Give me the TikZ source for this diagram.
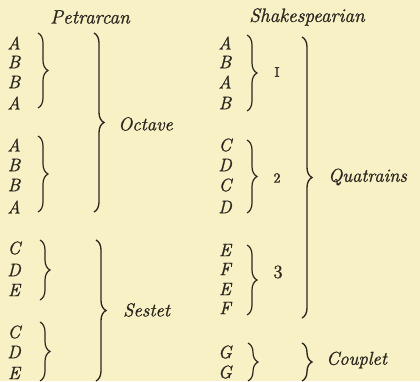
\documentclass[tikz,border=0pt]{standalone}
\usepackage{fontspec}
\newfontfamily\inkfont{Latin Modern Roman}[FakeBold=1.2]
\usetikzlibrary{decorations.pathreplacing}
\definecolor{paper}{HTML}{F8F1C6}
\definecolor{ink}{HTML}{2B2720}
\tikzset{
  letter/.style={text=ink,inner sep=0pt,font=\fontsize{13.5}{15}\inkfont\itshape},
  label/.style={text=ink,inner sep=0pt,anchor=west,font=\fontsize{14}{15}\inkfont\itshape},
  num/.style={text=ink,inner sep=0pt,font=\fontsize{14}{15}\inkfont},
  smallnum/.style={text=ink,inner sep=0pt,font=\fontsize{10.5}{12}\inkfont},
  head/.style={text=ink,inner sep=0pt,font=\fontsize{14.5}{15}\inkfont\itshape},
  smallbrace/.style={draw=ink,line width=0.9pt,decorate,decoration={brace,amplitude=7.5pt,aspect=0.5}},
  bigbrace/.style={draw=ink,line width=1pt,decorate,decoration={brace,amplitude=7.5pt,aspect=0.5}}
}
\begin{document}
\begin{tikzpicture}[x=0.75pt,y=-0.75pt]
\fill[paper] (0,0) rectangle (420,381);
\useasboundingbox (0,0) rectangle (420,381);
% headings
\node[head] (hp) at (90,17) {Petrarcan};
\node[head] (hs) at (307,17) {Shakespearian};
% left letters
\foreach \n/\l/\y in {1/A/43,2/B/62,3/B/82,4/A/103,5/A/145,6/B/165,7/B/185,8/A/207,9/C/248,10/D/270,11/E/290,12/C/332,13/D/352,14/E/373}
  \node[letter] (L\n) at (14,\y) {\l};
% right letters
\foreach \n/\l/\y in {1/A/43,2/B/62,3/A/82,4/B/103,5/C/145,6/D/165,7/C/185,8/D/207,9/E/250,10/F/269,11/E/289,12/F/308,13/G/352,14/G/372}
  \node[letter] (R\n) at (225,\y) {\l};
% brace end points
\coordinate (a1) at (38,33);  \coordinate (a2) at (38,108);
\coordinate (b1) at (38,136); \coordinate (b2) at (38,212);
\coordinate (c1) at (40,240); \coordinate (c2) at (40,300);
\coordinate (d1) at (40,322); \coordinate (d2) at (40,381);
\coordinate (o1) at (94,33);  \coordinate (o2) at (94,212);
\coordinate (s1) at (96,240); \coordinate (s2) at (96,381);
\coordinate (e1) at (247,35); \coordinate (e2) at (247,111);
\coordinate (f1) at (247,140); \coordinate (f2) at (247,213);
\coordinate (g1) at (247,245); \coordinate (g2) at (247,315);
\coordinate (h1) at (248,343); \coordinate (h2) at (248,381);
\coordinate (q1) at (302,37); \coordinate (q2) at (302,318);
\coordinate (k1) at (302,343); \coordinate (k2) at (302,381);
% braces
\draw[smallbrace] (a1) -- (a2);
\draw[smallbrace] (b1) -- (b2);
\draw[smallbrace] (c1) -- (c2);
\draw[smallbrace] (d1) -- (d2);
\draw[bigbrace] (o1) -- (o2);
\draw[bigbrace] (s1) -- (s2);
\draw[smallbrace] (e1) -- (e2);
\draw[smallbrace] (f1) -- (f2);
\draw[smallbrace] (g1) -- (g2);
\draw[smallbrace] (h1) -- (h2);
\draw[bigbrace] (q1) -- (q2);
\draw[bigbrace] (k1) -- (k2);
% labels
\node[label] (oct) at (118,124) {Octave};
\node[label] (ses) at (123,310) {Sestet};
\node[label] (qua) at (328,177) {Quatrains};
\node[label] (cou) at (326,360) {Couplet};
\node[smallnum] (n1) at (277,72) {I};
\node[smallnum] (n2) at (277,178) {2};
\node[num] (n3) at (278,272) {3};
\end{tikzpicture}
\end{document}
